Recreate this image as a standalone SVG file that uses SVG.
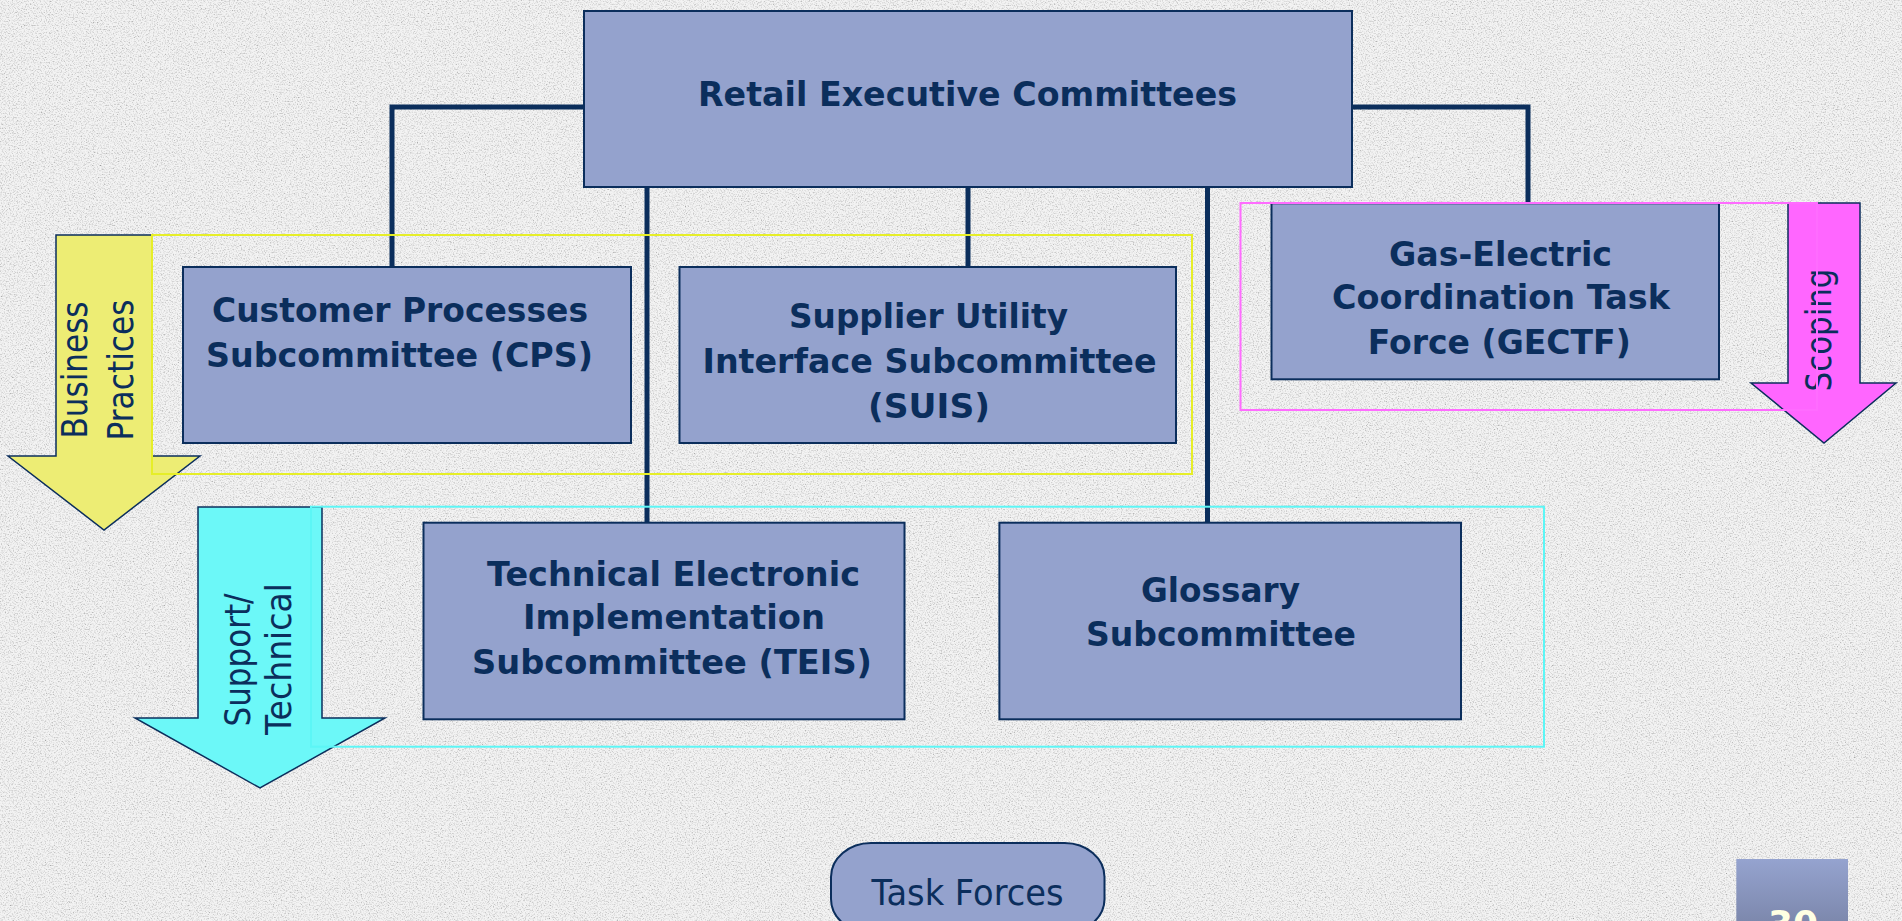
<svg xmlns="http://www.w3.org/2000/svg" width="1902" height="921" viewBox="0 0 1902 921">
<defs>
<filter id="grain" x="0" y="0" width="1902" height="921" filterUnits="userSpaceOnUse">
<feTurbulence type="fractalNoise" baseFrequency="0.75" numOctaves="2" seed="7"/>
<feColorMatrix type="matrix" values="2 0 0 0 -0.12  2 0 0 0 -0.12  2 0 0 0 -0.12  0 0 0 0 0.45"/>
</filter>
<linearGradient id="pg" x1="0" y1="0" x2="0" y2="1">
<stop offset="0" stop-color="#95A3CF"/>
<stop offset="1" stop-color="#7A85A9"/>
</linearGradient>
<style>
.box{fill:#94A2CD;stroke:#0B2E5C;stroke-width:2}
.conn{fill:none;stroke:#0B2E5C;stroke-width:5}
.t{font-family:"DejaVu Sans",Verdana,sans-serif;font-weight:bold;font-size:33px;fill:#0B2E5C;text-anchor:middle}
.r{font-family:"DejaVu Sans",Verdana,sans-serif;font-size:36px;fill:#0B2E5C;text-anchor:middle}
.arrow{stroke:#0B2E5C;stroke-width:1.5}
.frame{fill:none;stroke-width:2}
</style>
</defs>
<rect x="0" y="0" width="1902" height="921" fill="#EAEAEA"/>
<rect x="0" y="0" width="1902" height="921" filter="url(#grain)"/>

<g id="arrows">
<g id="arrow-business">
<polygon class="arrow" fill="#EDED74" points="56,235 152,235 152,456 200,456 104,530 8,456 56,456"/>
<text class="r" transform="translate(87,370) rotate(-90)" textLength="137" lengthAdjust="spacingAndGlyphs">Business</text>
<text class="r" transform="translate(132.5,370) rotate(-90)" textLength="141" lengthAdjust="spacingAndGlyphs">Practices</text>
</g>
<g id="arrow-support">
<polygon class="arrow" fill="#6CF8F8" points="198,507 322,507 322,718 385,718 260,788 135,718 198,718"/>
<text class="r" transform="translate(250,660) rotate(-90)" textLength="133" lengthAdjust="spacingAndGlyphs">Support/</text>
<text class="r" transform="translate(291,659) rotate(-90)" textLength="152" lengthAdjust="spacingAndGlyphs">Technical</text>
</g>
<g id="arrow-scoping">
<polygon class="arrow" fill="#FF66FF" points="1788,203 1860,203 1860,383 1896,383 1824,443 1751,383 1788,383"/>
<text class="r" transform="translate(1831,330) rotate(-90)" textLength="123" lengthAdjust="spacingAndGlyphs">Scoping</text>
</g>
</g>

<g id="connectors">
<polyline class="conn" points="584,107 392,107 392,267"/>
<line class="conn" x1="647" y1="187" x2="647" y2="523"/>
<line class="conn" x1="968" y1="187" x2="968" y2="267"/>
<line class="conn" x1="1207.5" y1="187" x2="1207.5" y2="523"/>
<polyline class="conn" points="1352,107 1528,107 1528,203"/>
</g>

<g id="retail">
<rect class="box" x="584" y="11" width="768" height="176"/>
<text class="t" x="967.5" y="106" textLength="539" lengthAdjust="spacingAndGlyphs">Retail Executive Committees</text>
</g>
<g id="cps">
<rect class="box" x="183" y="267" width="448" height="176"/>
<text class="t" x="400" y="321.7" textLength="376" lengthAdjust="spacingAndGlyphs">Customer Processes</text>
<text class="t" x="399.5" y="366.7" textLength="387" lengthAdjust="spacingAndGlyphs">Subcommittee (CPS)</text>
</g>
<g id="suis">
<rect class="box" x="679.5" y="267" width="496.5" height="176"/>
<text class="t" x="928.5" y="328.3" textLength="279" lengthAdjust="spacingAndGlyphs">Supplier Utility</text>
<text class="t" x="929.5" y="373.3" textLength="454" lengthAdjust="spacingAndGlyphs">Interface Subcommittee</text>
<text class="t" x="929" y="418" textLength="122" lengthAdjust="spacingAndGlyphs">(SUIS)</text>
</g>
<g id="gectf">
<rect class="box" x="1271.5" y="203.3" width="447.5" height="176"/>
<text class="t" x="1500.5" y="266" textLength="223" lengthAdjust="spacingAndGlyphs">Gas-Electric</text>
<text class="t" x="1501" y="309.3" textLength="338" lengthAdjust="spacingAndGlyphs">Coordination Task</text>
<text class="t" x="1499.3" y="354" textLength="263" lengthAdjust="spacingAndGlyphs">Force (GECTF)</text>
</g>
<g id="teis">
<rect class="box" x="423.5" y="522.7" width="481" height="196.6"/>
<text class="t" x="673.5" y="586" textLength="373" lengthAdjust="spacingAndGlyphs">Technical Electronic</text>
<text class="t" x="674" y="629.3" textLength="302" lengthAdjust="spacingAndGlyphs">Implementation</text>
<text class="t" x="672" y="674" textLength="400" lengthAdjust="spacingAndGlyphs">Subcommittee (TEIS)</text>
</g>
<g id="glossary">
<rect class="box" x="999.4" y="522.7" width="461.6" height="196.6"/>
<text class="t" x="1220.5" y="601.7" textLength="159" lengthAdjust="spacingAndGlyphs">Glossary</text>
<text class="t" x="1221" y="645.7" textLength="270" lengthAdjust="spacingAndGlyphs">Subcommittee</text>
</g>

<g id="frames">
<rect class="frame" stroke="#E6EE28" x="152" y="235" width="1040" height="239"/>
<rect class="frame" stroke="#FF6CFF" x="1240.5" y="203" width="576.5" height="207"/>
<rect class="frame" stroke="#5CF6F6" x="311" y="506.7" width="1233" height="240"/>
</g>

<g id="task-forces">
<rect class="box" x="831" y="843" width="273.5" height="90" rx="40" ry="34"/>
<text class="r" x="967.5" y="905" font-size="34" textLength="192" lengthAdjust="spacingAndGlyphs">Task Forces</text>
</g>

<g id="page-number">
<rect x="1736.3" y="859" width="111.7" height="70" fill="url(#pg)"/>
<text x="1793" y="936" font-family="DejaVu Sans, Verdana, sans-serif" font-weight="bold" font-size="36" fill="#FFFFE3" text-anchor="middle">30</text>
</g>
</svg>
